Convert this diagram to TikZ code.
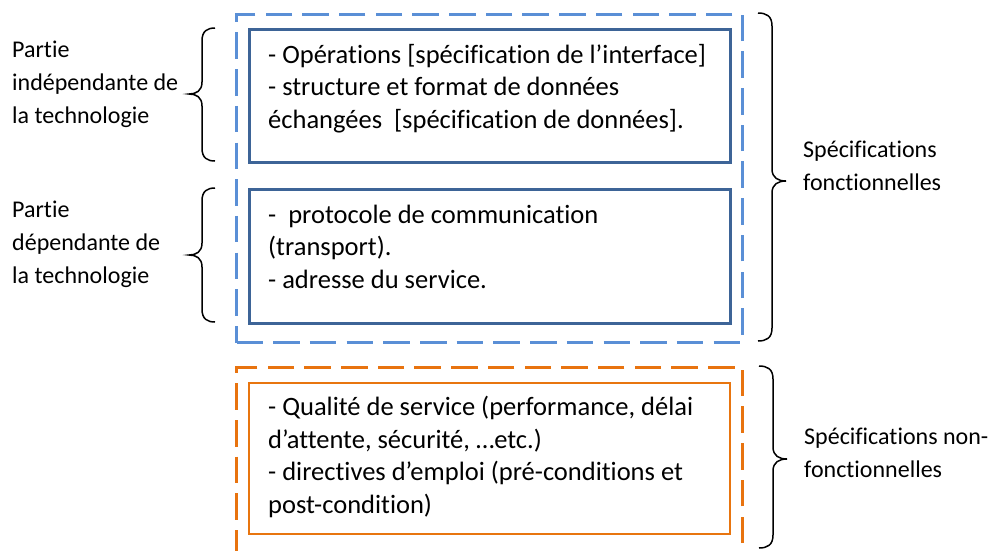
\documentclass[tikz,border=0pt]{standalone}
\usepackage{fontspec}
\setmainfont{Carlito}[Ligatures={NoCommon,NoContextual}]
\definecolor{dashblue}{HTML}{5A8FD6}
\definecolor{boxblue}{HTML}{3D6497}
\definecolor{dashorange}{HTML}{E8730F}
\definecolor{boxorange}{HTML}{E8750F}
\tikzset{
  outerbox/.style={draw, line width=3pt, dash pattern=on 26.5pt off 10.2pt, rectangle, inner sep=0pt, anchor=north west},
  innerbox/.style={draw, line width=2.8pt, rectangle, inner sep=0pt, anchor=north west},
  % multi-line texts are placed by the baseline of their last line
  txt/.style={anchor=base west, align=left, inner sep=0pt, font=\fontsize{26.5}{32.4}\selectfont},
  side/.style={anchor=base west, align=left, inner sep=0pt, font=\fontsize{24}{33}\selectfont},
  bracestyle/.style={draw=black, line width=1.5pt}
}
% curly brace: #1 x of the two ends, #2 x of the tip, #3 top y, #4 tip y, #5 bottom y, #6 name
\newcommand\drawcurly[6]{%
  \pgfmathsetmacro\bxm{(#1+#2)/2}%
  \pgfmathsetmacro\bxa{#1+0.3*(#2-#1)}%
  \pgfmathsetmacro\bxt{\bxm+0.45*(#2-\bxm)}%
  \draw[bracestyle] (#1,#3) coordinate (#6-a)
    .. controls (\bxa,#3) and (\bxm,#3+3) .. (\bxm,#3+13)
    -- (\bxm,#4-12)
    .. controls (\bxm,#4-3) and (\bxt,#4) .. (#2,#4) coordinate (#6-tip)
    .. controls (\bxt,#4) and (\bxm,#4+3) .. (\bxm,#4+12)
    -- (\bxm,#5-13)
    .. controls (\bxm,#5-3) and (\bxa,#5) .. (#1,#5) coordinate (#6-b);
}
\begin{document}
\begin{tikzpicture}[x=1pt, y=-1pt]
  \useasboundingbox (0,0) rectangle (991,550);
  \clip (0,0) rectangle (991,550);

  % functional part
  \node[outerbox, draw=dashblue, minimum width=506pt, minimum height=328pt] (fonc) at (235,13) {};
  \node[innerbox, draw=boxblue, minimum width=481pt, minimum height=133pt] (indep) at (248,28) {};
  \node[innerbox, draw=boxblue, minimum width=481pt, minimum height=134pt] (dep) at (248,188) {};

  \node[txt] (indeptxt) at (268,128) {- Opérations [spécification de l’interface]\\
    - structure et format de données\\
    échangées\ \ [spécification de données].};
  \node[txt] (deptxt) at (268,288) {-\ \ protocole de communication\\
    (transport).\\
    - adresse du service.};

  % non-functional part
  \node[outerbox, draw=dashorange, minimum width=506pt, minimum height=220pt] (nonfonc) at (235,366) {};
  \node[innerbox, draw=boxorange, line width=2.3pt, minimum width=481pt, minimum height=151pt] (qos) at (248,382) {};
  \node[txt] (qostxt) at (268,513) {- Qualité de service (performance, délai\\
    d’attente, sécurité, …etc.)\\
    - directives d’emploi (pré-conditions et\\
    post-condition)};

  % braces
  \drawcurly{215}{189}{28}{94}{161}{bi}
  \drawcurly{215}{189}{188}{255}{322}{bd}
  \drawcurly{758}{786}{13}{181}{341}{bf}
  \drawcurly{759}{787}{366}{459}{548}{bn}

  % side labels
  \node[side] (lblindep) at (12,123) {Partie\\ indépendante de\\ la technologie};
  \node[side] (lbldep) at (12,283) {Partie\\ dépendante de\\ la technologie};
  \node[side] (lblfonc) at (803,190) {Spécifications\\ fonctionnelles};
  \node[side] (lblnon) at (804,477) {Spécifications non-\\ fonctionnelles};
\end{tikzpicture}
\end{document}
